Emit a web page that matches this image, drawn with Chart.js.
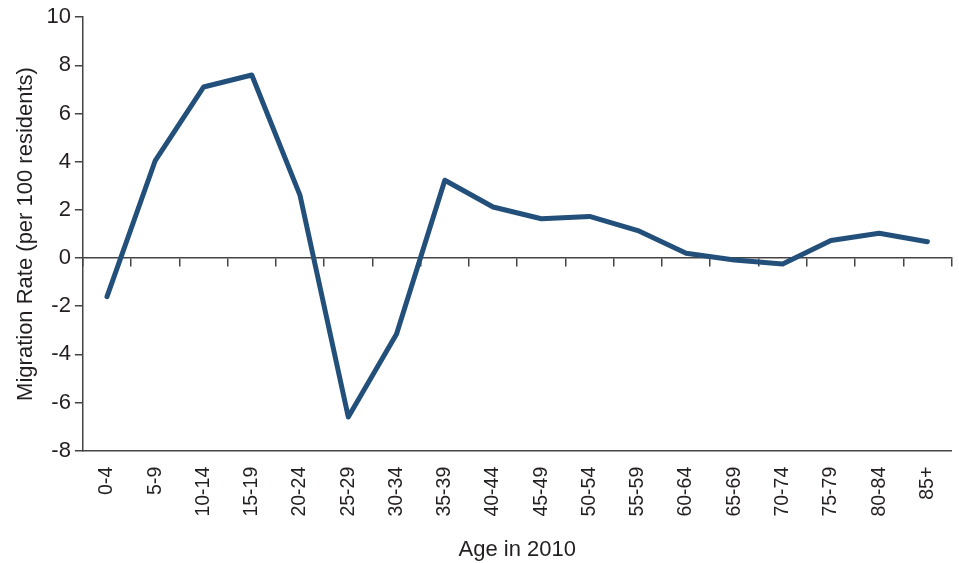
<!DOCTYPE html>
<html>
<head>
<meta charset="utf-8">
<script src="https://cdn.jsdelivr.net/npm/chart.js@4.4.1/dist/chart.umd.min.js"></script>
<style>
  html, body { margin: 0; padding: 0; background: #fff; }
  #wrap { width: 959px; height: 563px; }
</style>
</head>
<body>
<div id="wrap"><canvas id="myChart" width="959" height="563"></canvas></div>
<script>
// age groups on the x axis
var ageGroups = ['0-4', '5-9', '10-14', '15-19', '20-24', '25-29', '30-34', '35-39', '40-44',
  '45-49', '50-54', '55-59', '60-64', '65-69', '70-74', '75-79', '80-84', '85+'];

// migration rate per 100 residents
var migrationRate = [-1.6, 4.05, 7.1, 7.6, 2.6, -6.6, -3.15, 3.23, 2.12,
  1.63, 1.73, 1.14, 0.2, -0.08, -0.25, 0.73, 1.03, 0.68];

var yMin = -8;
var yMax = 10;
var yStep = 2;

var axisColor = '#444444';
var textColor = '#231f20';

var ctx = document.getElementById('myChart').getContext('2d');
var chart = new Chart(ctx, {
  type: 'line',
  data: {
    labels: ageGroups,
    datasets: [{
      label: 'Migration Rate',
      data: migrationRate,
      borderColor: '#23507a',
      borderWidth: 5,
      borderCapStyle: 'round',
      borderJoinStyle: 'round',
      pointRadius: 0,
      tension: 0,
      fill: false
    }]
  },
  options: {
    responsive: false,
    animation: false,
    layout: { padding: { top: 12, right: 7, left: 13, bottom: 0 } },
    plugins: {
      legend: { display: false },
      tooltip: { enabled: false }
    },
    scales: {
      x: {
        position: 'bottom',
        offset: true,
        grid: { display: true, drawOnChartArea: false, drawTicks: true, tickLength: 8, color: 'transparent' },
        border: { display: true, color: axisColor, width: 1.5 },
        ticks: {
          color: textColor,
          font: { family: 'Liberation Sans', size: 19.5 },
          maxRotation: 90, minRotation: 90,
          autoSkip: false,
          padding: 8
        },
        title: {
          display: true,
          text: 'Age in 2010',
          color: textColor,
          font: { family: 'Liberation Sans', size: 22 },
          padding: { top: 12, bottom: 0 }
        }
      },
      // tick marks hanging off the zero line
      zero: {
        type: 'category',
        axis: 'x',
        position: { y: 0 },
        offset: true,
        grid: { offset: true, drawOnChartArea: false, drawTicks: true, tickLength: 8, color: axisColor, lineWidth: 1.5 },
        border: { display: true, color: axisColor, width: 1.5 },
        ticks: { display: false }
      },
      y: {
        min: yMin,
        max: yMax,
        ticks: {
          stepSize: yStep,
          color: textColor,
          font: { family: 'Liberation Sans', size: 22 },
          padding: 4
        },
        grid: { drawOnChartArea: false, drawTicks: true, tickLength: 8, color: axisColor, lineWidth: 1.5 },
        border: { display: true, color: axisColor, width: 1.5 },
        title: {
          display: true,
          text: 'Migration Rate (per 100 residents)',
          color: textColor,
          font: { family: 'Liberation Sans', size: 22 },
          padding: { top: 0, bottom: 3 }
        }
      }
    }
  }
});
</script>
</body>
</html>
